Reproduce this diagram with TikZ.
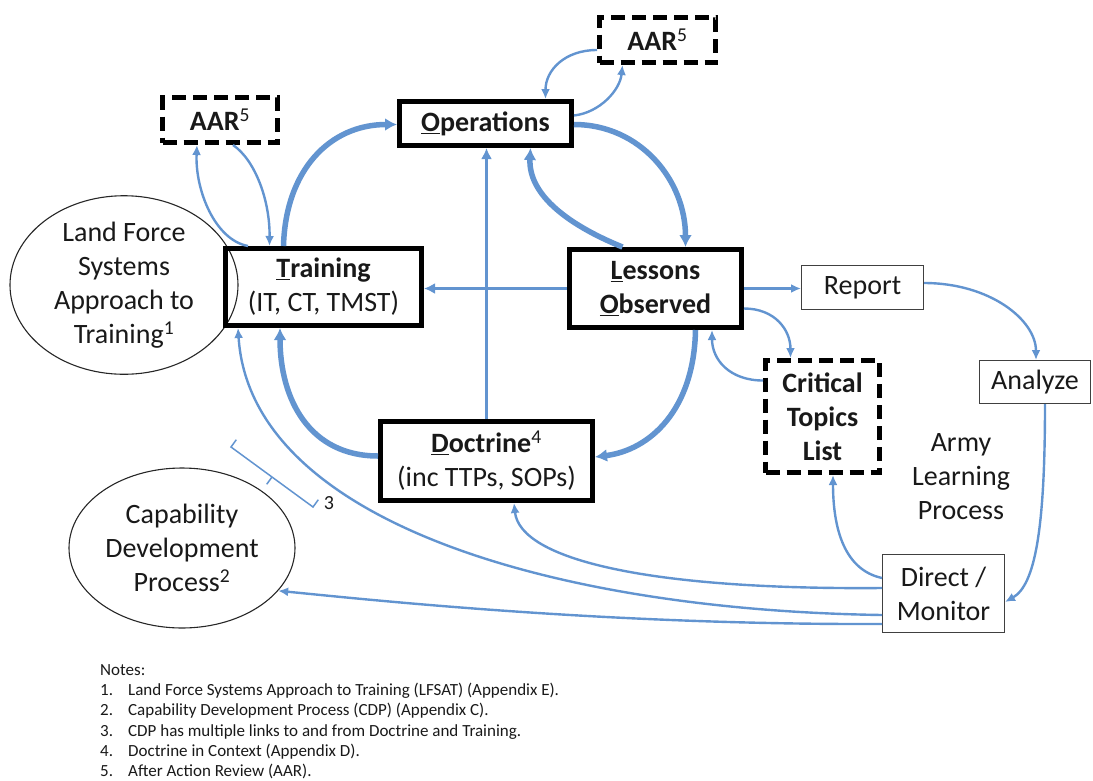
\documentclass[tikz,border=0pt]{standalone}
\usepackage{fontspec}
\setmainfont{Carlito}
\usetikzlibrary{arrows.meta,shapes.geometric,calc}
\definecolor{flow}{RGB}{98,148,208}
\definecolor{ink}{RGB}{25,25,25}

\begin{document}
\begin{tikzpicture}[x=1pt,y=-1pt,
  every node/.style={inner sep=0pt, text=ink},
  big/.style={font=\fontsize{28}{34}\selectfont},
  keybox/.style={big, draw=black, line width=5pt, align=center},
  keydash/.style={keybox, dash pattern=on 14pt off 7pt},
  plainbox/.style={big, draw=black!75, line width=1.3pt, align=center},
  oval/.style={big, draw=black!85, line width=1.1pt, ellipse, align=center},
  heavy/.style={draw=flow, line width=5.5pt, -{Latex[length=12pt,width=13pt]}},
  medium/.style={draw=flow, line width=3.5pt, -{Latex[length=11pt,width=11pt]}},
  light/.style={draw=flow, line width=2.4pt, -{Latex[length=10pt,width=9pt]}},
]
\useasboundingbox (0,0) rectangle (1093,780);

% ovals for the neighbouring processes
\node[oval, minimum width=228, minimum height=160] (lfsat) at (124,285)
  {Land Force\\Systems\\Approach to\\Training\textsuperscript{1}};
\node[oval, minimum width=226, minimum height=160] (cdp) at (182,548)
  {Capability\\Development\\Process\textsuperscript{2}};

% core cycle
\node[keybox, minimum width=172, minimum height=44] (ops) at (485.5,123.5)
  {\bfseries\underline{O}perations};
\node[keybox, minimum width=196, minimum height=77] (train) at (323.5,287)
  {{\bfseries\underline{T}raining}\\(IT, CT, TMST)};
\node[keybox, minimum width=172, minimum height=78] (less) at (655.5,288.5)
  {\bfseries\underline{L}essons\\\bfseries\underline{O}bserved};
\node[keybox, minimum width=212, minimum height=79] (doc) at (486.5,461)
  {{\bfseries\underline{D}octrine}\textsuperscript{4}\\(inc TTPs, SOPs)};

% after action reviews and topics list
\node[keydash, minimum width=115, minimum height=45] (aarL) at (220,120)
  {\bfseries AAR\textsuperscript{\mdseries 5}};
\node[keydash, minimum width=116, minimum height=45] (aarR) at (657.5,40)
  {\bfseries AAR\textsuperscript{\mdseries 5}};
\node[keydash, minimum width=114, minimum height=112] (crit) at (822.5,416.5)
  {\bfseries Critical\\\bfseries Topics\\\bfseries List};

% army learning process
\node[plainbox, minimum width=121.7, minimum height=43.7] (report) at (862.5,287.5) {Report};
\node[plainbox, minimum width=110.7, minimum height=42.7] (analyze) at (1035,382) {Analyze};
\node[plainbox, minimum width=121.7, minimum height=77.7] (direct) at (943.5,593.5) {Direct /\\Monitor};
\node[big, align=center] (alp) at (961,477) {Army\\Learning\\Process};

% main cycle connectors
\draw[heavy] ($(train.north)+(-40,0)$) .. controls +(2,-76) and +(-67,0) .. ($(ops.west)+(0,1)$);
\draw[heavy] ($(ops.east)+(0,1)$) .. controls +(66,0) and +(0,-67) .. ($(less.north)+(30,0)$);
\draw[heavy] ($(less.north)+(-33,0)$) .. controls +(-42,-17) and +(-2.5,52) .. ($(ops.south)+(45,0)$);
\draw[heavy] ($(less.south)+(40,0)$) .. controls +(-1.5,80) and +(55,-7) .. ($(doc.east)+(0,-4)$);
\draw[heavy] ($(doc.west)+(0,-5)$) .. controls +(-68,0) and +(0,72) .. ($(train.south)+(-43.5,0)$);
\draw[medium] (doc.north) -- (doc.north |- ops.south);
\draw[medium] (less.west) -- (less.west -| train.east);

% after action review loops
\draw[light] ($(ops.east)+(0,-8)$) .. controls +(26,-3) and +(-2.5,25) .. ($(aarR.south)+(-35,0)$);
\draw[light] ($(aarR.west)+(0,10)$) .. controls +(-32,0) and +(0,-29) .. ($(ops.north)+(60,0)$);
\draw[light] ($(train.north west)+(25,0)$) .. controls +(-33,-6) and +(-2,45) .. ($(aarL.south)+(-23,0)$);
\draw[light] ($(aarL.south)+(13,0)$) .. controls +(22,15) and +(0.5,-46) .. ($(train.north)+(-54,0)$);

% learning process links
\draw[light] (less.east) -- (less.east -| report.west);
\draw[light] ($(report.east)+(0,-4.5)$) .. controls +(66,0) and +(0,-40) .. ($(analyze.north)+(1,0)$);
\draw[light] ($(analyze.south)+(10,0)$) .. controls +(0,126) and +(30,-17) .. ($(direct.east)+(0,8.5)$);
\draw[light] ($(less.east)+(0,20)$) .. controls +(31,0) and +(0,-28) .. ($(crit.north)+(-32,0)$);
\draw[light] ($(crit.west)+(0,-36)$) .. controls +(-33,0) and +(0,30) .. ($(less.south)+(56.5,0)$);
\draw[light] ($(direct.west)+(0,-15.5)$) .. controls +(-37,-8) and +(0,55) .. ($(crit.south)+(10.5,0)$);
\draw[light] ($(direct.west)+(0,-5.5)$) .. controls +(-232,2) and +(6,57) .. ($(doc.south)+(27.5,0)$);
\draw[light] ($(direct.west)+(0,21.5)$) .. controls +(-332,-5) and +(12,192) .. ($(train.south)+(-85.5,0)$);
\draw[light] ($(direct.west)+(0,30.5)$) .. controls +(-282,1) and +(83,8) .. (cdp.-24);

% bracket marking the CDP links
\draw[flow, line width=1.5pt] (236.3,439.7) -- (231,447) -- (313,507) -- (318.3,499.7);
\draw[flow, line width=1.5pt] (272,477) -- (266.7,484.3);
\node[font=\fontsize{20}{24}\selectfont] (three) at (329,503) {3};

% notes
\node[anchor=north west, align=left, font=\fontsize{17}{20.3}\selectfont] (notes) at (100,664)
  {Notes:\\
   \makebox[28pt][l]{1.}Land Force Systems Approach to Training (LFSAT) (Appendix E).\\
   \makebox[28pt][l]{2.}Capability Development Process (CDP) (Appendix C).\\
   \makebox[28pt][l]{3.}CDP has multiple links to and from Doctrine and Training.\\
   \makebox[28pt][l]{4.}Doctrine in Context (Appendix D).\\
   \makebox[28pt][l]{5.}After Action Review (AAR).};
\end{tikzpicture}
\end{document}
